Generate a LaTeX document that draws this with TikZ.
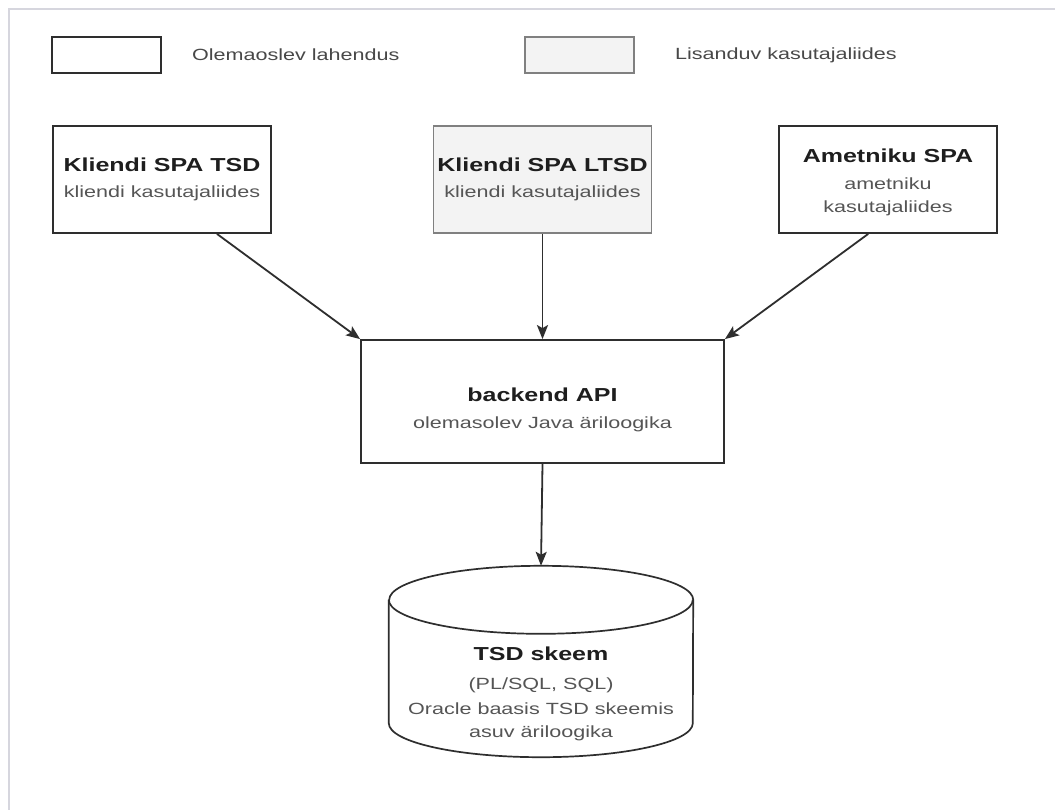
\documentclass[tikz,border=0pt]{standalone}
\usepackage{fontspec}
\setmainfont[FakeStretch=1.33]{Liberation Sans}
\usetikzlibrary{arrows.meta,calc}

\definecolor{ink}{HTML}{1E1E1E}
\definecolor{subink}{HTML}{555555}
\definecolor{edge}{HTML}{2E2E2E}
\definecolor{softedge}{HTML}{808080}
\definecolor{paleface}{HTML}{F3F3F3}
\definecolor{framegray}{HTML}{D6D6DE}

\newcommand{\hdr}[1]{{\fontsize{18.8}{23}\bfseries\selectfont\color{ink}#1}}

\tikzset{
  box/.style={draw=edge, line width=1.8pt, fill=white, rectangle,
    minimum width=218pt, minimum height=107pt, inner sep=0pt,
    align=center, font=\fontsize{16.2}{23}\selectfont, text=subink},
  newbox/.style={box, draw=softedge, fill=paleface},
  legendbox/.style={draw=edge, line width=1.8pt, fill=white, rectangle,
    minimum width=109pt, minimum height=36pt, inner sep=0pt},
  legendtext/.style={anchor=west, inner sep=0pt,
    font=\fontsize{16.2}{23}\selectfont, text=subink!85!black},
  link/.style={draw=edge, line width=1.8pt,
    -{Stealth[length=14pt,width=11pt,inset=3pt]}},
  dbtext/.style={align=center, inner sep=0pt,
    font=\fontsize{16.2}{23.5}\selectfont, text=subink}
}

\begin{document}
\begin{tikzpicture}[x=1pt,y=1pt]
  \useasboundingbox (0,0) rectangle (1055,-809);
  \fill[white] (0,0) rectangle (1055,-809);
  % outer frame
  \draw[framegray, line width=1.2pt] (1070,-9) -- (9,-9) -- (9,-820);

  % legend
  \node[legendbox] (legA) at (106.5,-55) {};
  \node[legendtext] (legAtxt) at (192,-55) {Olemaoslev lahendus};
  \node[legendbox, draw=softedge, fill=paleface] (legB) at (579.5,-55) {};
  \node[legendtext] (legBtxt) at (675,-55) {Lisanduv kasutajaliides};

  % client applications
  \node[box] (tsd) at (162,-179.5)
    {\hdr{Kliendi SPA TSD}\\[3pt]kliendi kasutajaliides};
  \node[newbox] (ltsd) at (542.5,-179.5)
    {\hdr{Kliendi SPA LTSD}\\[3pt]kliendi kasutajaliides};
  \node[box] (amet) at (888,-179.5)
    {\rule{0pt}{20pt}\hdr{Ametniku SPA}\\[4pt]ametniku\\kasutajaliides};

  % backend
  \node[box, minimum width=363pt, minimum height=123pt] (api) at (542.5,-401.5)
    {\rule{0pt}{30pt}\hdr{backend API}\\[4pt]olemasolev Java äriloogika};

  % database cylinder
  \node[rectangle, minimum width=304pt, minimum height=191pt, inner sep=0pt]
    (db) at (541,-661.5) {};
  \draw[edge, line width=1.7pt, fill=white]
    ([yshift=-34pt]db.north west) -- ([yshift=34pt]db.south west)
    arc[start angle=180, end angle=360, x radius=152pt, y radius=34pt]
    -- ([yshift=-34pt]db.north east)
    arc[start angle=0, end angle=180, x radius=152pt, y radius=34pt];
  \draw[edge, line width=1.7pt]
    ([yshift=-34pt]db.north west)
    arc[start angle=180, end angle=360, x radius=152pt, y radius=34pt];
  \node[dbtext] (dbtxt) at (541,-694)
    {\hdr{TSD skeem}\\[6pt](PL/SQL, SQL)\\[1pt]Oracle baasis TSD skeemis\\asuv äriloogika};

  % connectors
  \draw[link] ($(tsd.south)!0.5!(tsd.south east)$) -- (api.north west);
  \draw[link] (ltsd.south) -- (api.north);
  \draw[link] ($(amet.south)!0.18!(amet.south west)$) -- (api.north east);
  \draw[link] (api.south) -- (db.north);
\end{tikzpicture}
\end{document}
